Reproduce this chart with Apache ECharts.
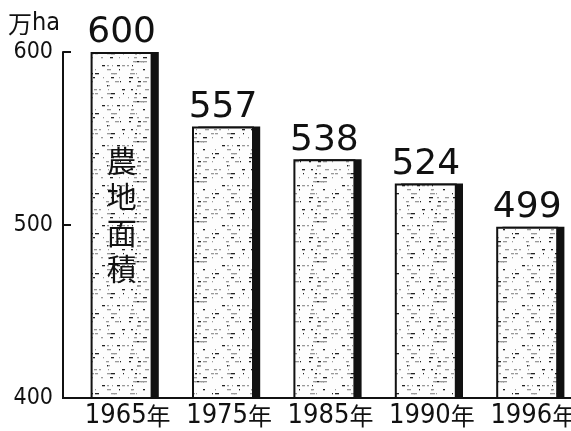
<!DOCTYPE html>
<html>
<head>
<meta charset="utf-8">
<script src="https://cdn.jsdelivr.net/npm/echarts@6/dist/echarts.min.js"></script>
<style>
html, body { margin: 0; padding: 0; background: #fff; }
#main { width: 571px; height: 431px; }
</style>
</head>
<body>
<div id="main"></div>
<script>
// 農地面積 (万ha)
var years = ['1965', '1975', '1985', '1990', '1996'];
var area = [600, 557, 538, 524, 499];
var yMin = 400, yMax = 600, yStep = 100;

var narrow = "'DejaVu Sans Condensed', sans-serif";
var cjk = "'Noto Sans CJK JP', sans-serif";

// stippled fill like the printed halftone
function makePattern() {
    var c = document.createElement('canvas');
    c.width = 60; c.height = 40;
    var ctx = c.getContext('2d');
    ctx.fillStyle = '#fdfdfd';
    ctx.fillRect(0, 0, 60, 40);
    for (var r = 0; r < 10; r++) {
        for (var k = 0; k < 7; k++) {
            var x = (r * 17 + k * 23 + r * k * 7) % 60;
            var w = 1 + ((r * 5 + k * 3) % 4);
            ctx.fillStyle = ((r + k) % 3 === 0) ? '#222' : '#999';
            ctx.fillRect(x, r * 4 + 1, w, 1.3);
        }
    }
    return c;
}

var myChart = echarts.init(document.getElementById('main'));
var option = {
    backgroundColor: '#fff',
    animation: false,
    grid: {
        left: 74,
        top: 52,
        bottom: 33,
        width: 507,
        outerBoundsMode: 'none'
    },
    xAxis: {
        type: 'category',
        data: years,
        axisLine: { lineStyle: { color: '#111', width: 2 } },
        axisTick: { show: false },
        axisLabel: {
            margin: 4,
            padding: [0, 0, 0, 6],
            formatter: function (v) { return '{n|' + v + '}{c|年}'; },
            rich: {
                n: { fontFamily: narrow, fontSize: 27, color: '#111' },
                c: { fontFamily: cjk, fontSize: 24, color: '#111' }
            }
        }
    },
    yAxis: {
        type: 'value',
        min: yMin,
        max: yMax,
        interval: yStep,
        offset: 11,
        name: '{c|万}{n|ha}',
        nameLocation: 'end',
        nameGap: 16,
        nameTextStyle: {
            align: 'right',
            padding: [0, 3, 0, 0],
            rich: {
                c: { fontFamily: cjk, fontSize: 24, color: '#111' },
                n: { fontFamily: narrow, fontSize: 25, color: '#111' }
            }
        },
        axisLine: { show: true, lineStyle: { color: '#111', width: 2 } },
        axisTick: { show: true, inside: true, length: 8, lineStyle: { color: '#111', width: 2 } },
        axisLabel: { margin: 10, fontFamily: narrow, fontSize: 23, color: '#111' },
        splitLine: { show: false }
    },
    series: [{
        type: 'bar',
        name: '農地面積',
        data: area,
        barWidth: 62,
        barGap: '-90%',
        z: 3,
        itemStyle: {
            color: { image: makePattern(), repeat: 'repeat' },
            borderColor: '#111',
            borderWidth: 2
        },
        label: {
            show: true,
            position: 'top',
            distance: 1,
            fontFamily: "'DejaVu Sans', sans-serif",
            fontSize: 36,
            color: '#111'
        }
    }, {
        // dark right-hand edge of each bar
        type: 'bar',
        name: 'edge',
        data: area,
        barWidth: 62,
        z: 2,
        silent: true,
        itemStyle: { color: '#111' }
    }]
};
myChart.setOption(option);

// vertical caption inside the first bar, and the short x-axis piece under the offset y axis
var p = myChart.convertToPixel({ xAxisIndex: 0, yAxisIndex: 0 }, [years[0], 506]);
var p0 = myChart.convertToPixel({ xAxisIndex: 0, yAxisIndex: 0 }, [years[0], yMin]);
myChart.setOption({
    graphic: [{
        type: 'text',
        z: 100,
        x: p[0] - 3,
        y: p[1],
        style: {
            text: '農\n地\n面\n積',
            font: '30px ' + cjk,
            lineHeight: 36,
            textAlign: 'center',
            textVerticalAlign: 'middle',
            fill: '#111'
        }
    }, {
        type: 'line',
        z: 100,
        shape: { x1: 74 - 12, y1: p0[1], x2: 75, y2: p0[1] },
        style: { stroke: '#111', lineWidth: 2 }
    }]
});
</script>
</body>
</html>
